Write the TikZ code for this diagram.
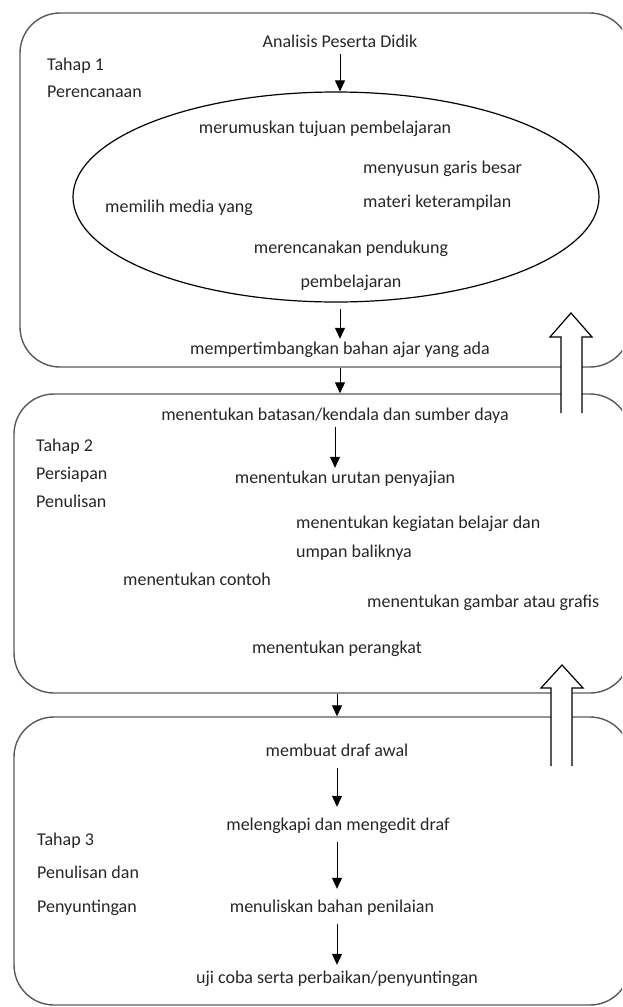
\documentclass[tikz,border=0pt]{standalone}
\usepackage{fontspec}
\setmainfont{Carlito}
\usetikzlibrary{arrows.meta,shapes.geometric}

\begin{document}
\begin{tikzpicture}[x=1pt,y=-1pt,
		stg/.style={rectangle,draw=black!65,line width=1.4pt,rounded corners=40pt,inner sep=0pt},
		lbl/.style={font=\fontsize{18}{27}\selectfont,text=black!85,text height=12pt,text depth=4pt,inner sep=3pt,anchor=base},
		txtblk/.style={font=\fontsize{18}{#1}\selectfont,text=black!85,inner sep=0pt,align=left,anchor=base west},
		arr/.style={-{Triangle[width=10pt,length=11pt]},line width=1pt},
		back/.style={draw,fill=white,line width=1.2pt}]
		\useasboundingbox (0,0) rectangle (622,1007);
		\clip (0,0) rectangle (622,1007);
		\node (box1) at (325,190) [stg,minimum width=610pt,minimum height=354pt] {};
		\node (box2) at (322,543.5) [stg,minimum width=616pt,minimum height=299pt] {};
		\node (box3) at (322,861) [stg,minimum width=616pt,minimum height=288pt] {};
		\node (ell) at (336,197) [ellipse,draw,line width=1.2pt,minimum width=526pt,minimum height=210pt,inner sep=0pt] {};
		\node (th1) at (47,97) [txtblk=27pt] {Tahap 1\\Perencanaan};
		\node (ana) at (340,47) [lbl] {Analisis Peserta Didik};
		\node (mrm) at (325,133) [lbl] {merumuskan tujuan pembelajaran};
		\node (sus) at (363,207) [txtblk=34pt] {menyusun garis besar\\materi keterampilan};
		\node (mml) at (105,212) [txtblk=27pt] {memilih media yang};
		\node (rnc) at (351,287) [txtblk=34pt,align=center,anchor=base] {merencanakan pendukung\\pembelajaran};
		\node (mpt) at (340,354) [lbl] {mempertimbangkan bahan ajar yang ada};
		\node (th2) at (36,507) [txtblk=28pt] {Tahap 2\\Persiapan\\Penulisan};
		\node (bts) at (335,420) [lbl] {menentukan batasan/kendala dan sumber daya};
		\node (urt) at (345,483) [lbl] {menentukan urutan penyajian};
		\node (kgt) at (296,557) [txtblk=29pt] {menentukan kegiatan belajar dan\\umpan baliknya};
		\node (ctn) at (123,585) [txtblk=27pt] {menentukan contoh};
		\node (gbr) at (367,607) [txtblk=27pt] {menentukan gambar atau grafis};
		\node (prk) at (337,653) [lbl] {menentukan perangkat};
		\node (th3) at (37,912) [txtblk=33.5pt] {Tahap 3\\Penulisan dan\\Penyuntingan};
		\node (drf) at (337,756) [lbl] {membuat draf awal};
		\node (lkp) at (338,830) [lbl] {melengkapi dan mengedit draf};
		\node (nil) at (332,912) [lbl] {menuliskan bahan penilaian};
		\node (uji) at (337,983) [lbl] {uji coba serta perbaikan/penyuntingan};
		\path [draw,arr] (ana.south) -- (ana.south |- ell.north);
		\path [draw,arr,shorten <=6pt] (mpt.north |- ell.south) -- (mpt.north);
		\path [draw,arr] (box1.south -| mpt) -- (box2.north -| mpt);
		\path [draw,arr] (bts.south) -- (bts.south |- urt.north);
		\path [draw,arr] (box2.south -| drf) -- (box3.north -| drf);
		\path [draw,arr,shorten <=5pt,shorten >=8pt] (drf.south) -- (drf.south |- lkp.north);
		\path [draw,arr,shorten <=5pt,shorten >=8pt] (lkp.south -| drf) -- (drf |- nil.north);
		\path [draw,arr,shorten <=5pt,shorten >=3pt] (nil.south -| drf) -- (drf |- uji.north);
		\path [back] (561,413) -- (561,337) -- (550,337) -- (571,313) -- (592,337) -- (582,337) -- (582,413);
		\path [back] (551,766) -- (551,688) -- (541,688) -- (562,665) -- (583,688) -- (572,688) -- (572,766);
	\end{tikzpicture}
\end{document}
